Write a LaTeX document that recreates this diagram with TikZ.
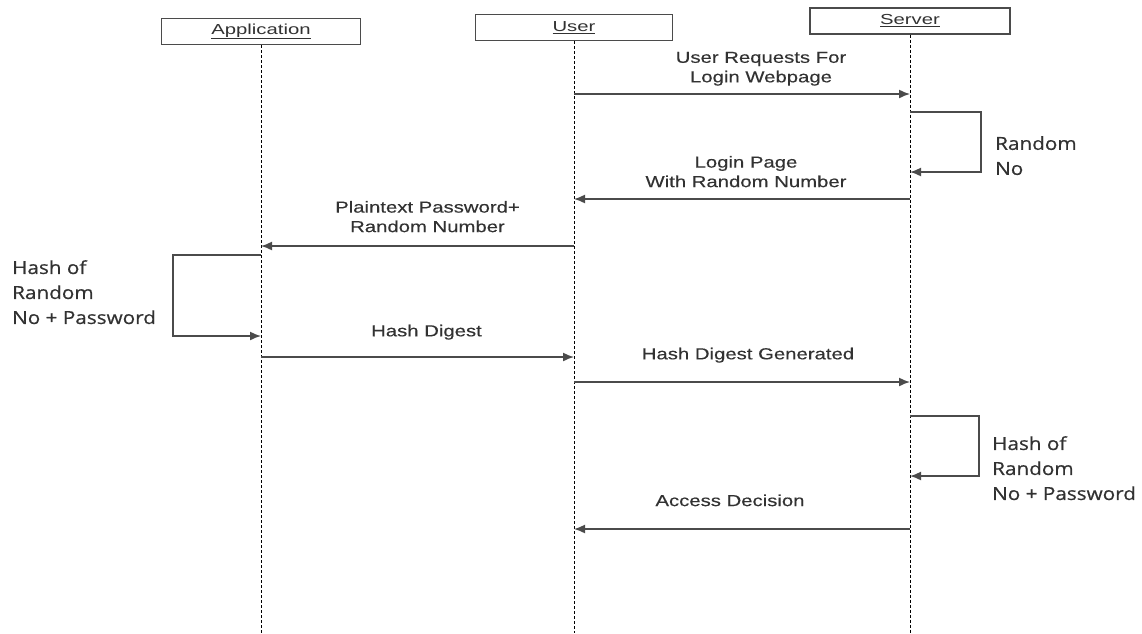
\documentclass[tikz,border=0pt]{standalone}
\usepackage{fontspec}
\usetikzlibrary{arrows.meta}
\newfontfamily\msgFont[FakeStretch=1.27, FakeBold=0.3]{Liberation Sans}
\newfontfamily\noteFont[FakeStretch=1.15, FakeBold=0.6]{Open Sans}
\newfontfamily\headFont[FakeStretch=1.4]{Liberation Sans}
\definecolor{seqText}{RGB}{50,50,50}
\definecolor{seqLine}{RGB}{75,75,75}

\begin{document}
\begin{tikzpicture}[x=1pt, y=-1pt,
    actor/.style={draw=seqLine, line width=1.4pt, fill=white, minimum width=199pt, minimum height=26pt, inner sep=0pt, font=\headFont\fontsize{14.5}{16}\selectfont, text=seqText},
    lifeline/.style={draw=black, line width=1pt, dash pattern=on 3pt off 2pt},
    msg/.style={-{Latex[length=11pt,width=9pt]}, draw=seqLine, line width=1.5pt},
    msglabel/.style={font=\msgFont\fontsize{16}{19.5}\selectfont, text=seqText, align=center, inner sep=0pt},
    note/.style={font=\noteFont\fontsize{18}{25}\selectfont, text=seqText, align=left, inner sep=0pt, anchor=north west}
]
    \useasboundingbox (0,0) rectangle (1142,633);

    % actors
    \node[actor] (app) at (261,31.5) {\underline{Application}};
    \node[actor, minimum width=197pt] (user) at (574,27.5) {\underline{User}};
    \node[actor, minimum width=200pt] (server) at (910,21) {\underline{Server}};

    % lifelines
    \coordinate (app-end) at (261,633);
    \coordinate (user-end) at (574,633);
    \coordinate (server-end) at (910,633);
    \draw[lifeline] (app) -- (app-end);
    \draw[lifeline] (user) -- (user-end);
    \draw[lifeline] (server) -- (server-end);

    % message points
    \coordinate (u1) at (574,94);   \coordinate (s1) at (910,94);
    \coordinate (s2a) at (910,112); \coordinate (s2b) at (910,172);
    \coordinate (s3) at (910,199);  \coordinate (u3) at (574,199);
    \coordinate (u4) at (574,246);  \coordinate (a4) at (261,246);
    \coordinate (a5a) at (261,255); \coordinate (a5b) at (261,336);
    \coordinate (a6) at (261,357);  \coordinate (u6) at (574,357);
    \coordinate (u7) at (574,382);  \coordinate (s7) at (910,382);
    \coordinate (s8a) at (910,416); \coordinate (s8b) at (910,476);
    \coordinate (s9) at (910,529);  \coordinate (u9) at (574,529);

    % messages
    \draw[msg] (u1) -- node[msglabel, midway, above=7.6pt, xshift=19pt] {User Requests For\\Login Webpage} (s1);
    \draw[msg] (s2a) -| (981,172) -- (s2b);
    \draw[msg] (s3) -- node[msglabel, midway, above=11pt, xshift=4pt] {Login Page\\With Random Number} (u3);
    \draw[msg] (u4) -- node[msglabel, midway, above=13pt, xshift=10pt] {Plaintext Password+\\Random Number} (a4);
    \draw[msg] (a5a) -| (173,336) -- (a5b);
    \draw[msg] (a6) -- node[msglabel, midway, above=16.6pt, xshift=9pt] {Hash Digest} (u6);
    \draw[msg] (u7) -- node[msglabel, midway, above=18.6pt, xshift=6pt] {Hash Digest Generated} (s7);
    \draw[msg] (s8a) -| (979,476) -- (s8b);
    \draw[msg] (s9) -- node[msglabel, midway, above=22pt, xshift=-12pt] {Access Decision} (u9);

    % notes
    \node[note] (random-note) at (995,136) {Random\\No};
    \node[note] (app-hash-note) at (12,260) {Hash of\\Random\\No + Password};
    \node[note] (server-hash-note) at (992,436) {Hash of\\Random\\No + Password};
\end{tikzpicture}
\end{document}
